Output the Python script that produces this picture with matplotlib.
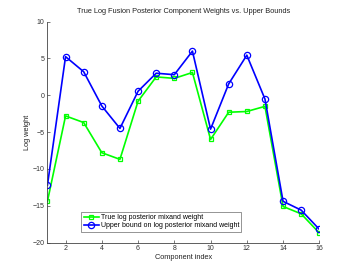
import matplotlib
matplotlib.use("Agg")
import matplotlib.pyplot as plt

components = list(range(1, 17))
true_log_weight = [-14.4, -2.8, -3.7, -7.8, -8.7, -0.8, 2.5, 2.3, 3.1, -6.0, -2.3, -2.2, -1.5, -15.1, -16.1, -18.7]
upper_bound = [-12.2, 5.25, 3.2, -1.45, -4.5, 0.55, 3.0, 2.8, 6.0, -4.6, 1.55, 5.45, -0.5, -14.4, -15.6, -18.2]
xticks = [2, 4, 6, 8, 10, 12, 14, 16]
yticks = [-20, -15, -10, -5, 0, 5, 10]

plt.rcParams['font.family'] = ['Liberation Sans', 'DejaVu Sans']
fig = plt.figure(figsize=(3.54, 2.71), dpi=100)
ax = fig.add_axes([0.134, 0.105, 0.768, 0.815])

ax.plot(components, true_log_weight, color=(0, 1, 0), lw=1.2, marker='s', ms=3.2,
        mfc='none', mec=(0, 1, 0), mew=0.9, label='True log posterior mixand weight')
ax.plot(components, upper_bound, color=(0, 0, 1), lw=1.2, marker='o', ms=4.5,
        mfc='none', mec=(0, 0, 1), mew=0.9, label='Upper bound on log posterior mixand weight')

ax.set_xlim(1, 16)
ax.set_ylim(-20, 10)
ax.set_xticks(xticks)
ax.set_yticks(yticks)
for s in ['top', 'right']:
    ax.spines[s].set_visible(False)
for s in ['left', 'bottom']:
    ax.spines[s].set_linewidth(0.6)
    ax.spines[s].set_color('#444444')
ax.tick_params(direction='in', length=2.5, width=0.5, labelsize=5, pad=2,
               colors='#444444', labelcolor='#333333')
ax.set_title('True Log Fusion Posterior Component Weights vs. Upper Bounds', fontsize=5.3, pad=6,
             color='#222222')
ax.set_xlabel('Component index', fontsize=5.3, labelpad=1, color='#222222')
ax.set_ylabel('Log weight', fontsize=5.3, labelpad=1, color='#222222')

leg = ax.legend(loc='lower left', bbox_to_anchor=(0.125, 0.05), fontsize=5, frameon=True,
                fancybox=False, edgecolor='#444444', borderpad=0.3, labelspacing=0.2,
                handlelength=2.2, handletextpad=0.3, borderaxespad=0)
leg.get_frame().set_linewidth(0.5)

fig.savefig('out.png', dpi=100)
